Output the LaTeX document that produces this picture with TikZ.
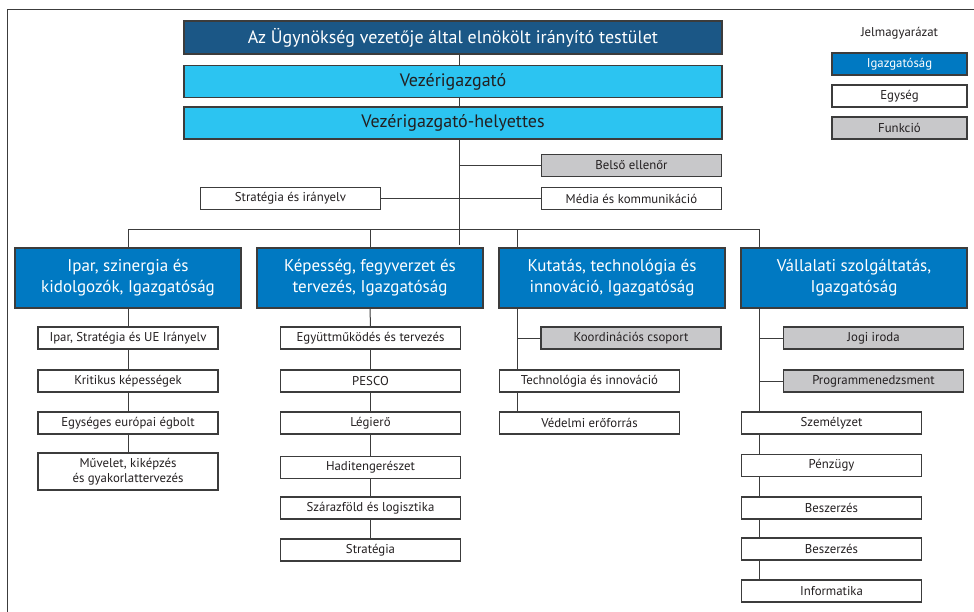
\documentclass[tikz,border=0pt]{standalone}
\usepackage{fontspec}
\setmainfont{PT Sans}
\usetikzlibrary{positioning, calc}

\definecolor{boardblue}{HTML}{1B5786}
\definecolor{ceocyan}{HTML}{2CC4F1}
\definecolor{dirblue}{HTML}{0079C2}
\definecolor{funcgray}{HTML}{C8C8CA}
\definecolor{edgegray}{HTML}{3C3C3C}
\definecolor{textgray}{HTML}{231F20}

\begin{document}
\begin{tikzpicture}[x=1pt, y=-1pt,
    box/.style={rectangle, draw=edgegray, line width=1.1pt, inner sep=0pt, align=center, text=textgray},
    topbox/.style={box, fill=boardblue, text=white, minimum width=538pt, minimum height=33pt, font=\fontsize{18}{21}\selectfont},
    ceobox/.style={box, fill=ceocyan, minimum width=538pt, minimum height=32pt, font=\fontsize{18}{21}\selectfont},
    dirbox/.style={box, fill=dirblue, text=white, minimum width=226pt, minimum height=60pt, font=\fontsize{17}{20.7}\selectfont},
    unitbox/.style={box, fill=white, minimum width=180pt, minimum height=22pt, font=\fontsize{12.8}{14.5}\selectfont},
    funcbox/.style={unitbox, fill=funcgray},
    legendbox/.style={unitbox, minimum width=135pt},
    link/.style={draw=edgegray, line width=1pt}
]
\useasboundingbox (0,0) rectangle (974,612);

% Frame
\draw[link] (7.5,612) -- (7.5,10) -- (974,10);

% Top management
\node[topbox] (board) at (453, 37.5) {Az Ügynökség vezetője által elnökölt irányító testület};
\node[ceobox] (ceo) at (453, 81.5) {Vezérigazgató};
\node[ceobox] (deputy) at (453, 123) {Vezérigazgató-helyettes};

\node[funcbox] (audit) at (631.5, 165.5) {Belső ellenőr};
\node[unitbox] (policy) at (290.5, 198.5) {Stratégia és irányelv};
\node[unitbox] (media) at (631.5, 198.5) {Média és kommunikáció};

% Directorates
\node[dirbox] (dir1) at (128, 278) {Ipar, szinergia és\\kidolgozók, Igazgatóság};
\node[dirbox] (dir2) at (370, 278) {Képesség, fegyverzet és\\tervezés, Igazgatóság};
\node[dirbox] (dir3) at (612, 278) {Kutatás, technológia és\\innováció, Igazgatóság};
\node[dirbox] (dir4) at (854, 278) {Vállalati szolgáltatás,\\Igazgatóság};

% Units of dir1
\node[unitbox] (ind1) at (128, 338) {Ipar, Stratégia és UE Irányelv};
\node[unitbox] (ind2) at (128, 381) {Kritikus képességek};
\node[unitbox] (ind3) at (128, 423) {Egységes európai égbolt};
\node[unitbox, minimum height=37pt] (ind4) at (128, 471.5) {Művelet, kiképzés\\és gyakorlattervezés};

% Units of dir2
\node[unitbox] (cap1) at (370.5, 338) {Együttműködés és tervezés};
\node[unitbox] (cap2) at (370.5, 381) {PESCO};
\node[unitbox] (cap3) at (370.5, 423) {Légierő};
\node[unitbox] (cap4) at (370.5, 467.5) {Haditengerészet};
\node[unitbox] (cap5) at (370.5, 508) {Szárazföld és logisztika};
\node[unitbox] (cap6) at (370.5, 550) {Stratégia};

% Units of dir3
\node[funcbox] (rti0) at (631, 338) {Koordinációs csoport};
\node[unitbox] (rti1) at (589.5, 381) {Technológia és innováció};
\node[unitbox] (rti2) at (589.5, 423) {Védelmi erőforrás};

% Units of dir4
\node[funcbox] (cs0) at (873.5, 338) {Jogi iroda};
\node[funcbox] (cs1) at (873.5, 381) {Programmenedzsment};
\node[unitbox] (cs2) at (831.5, 423) {Személyzet};
\node[unitbox] (cs3) at (831.5, 465.5) {Pénzügy};
\node[unitbox] (cs4) at (831.5, 508) {Beszerzés};
\node[unitbox] (cs5) at (831.5, 549) {Beszerzés};
\node[unitbox] (cs6) at (831.5, 591) {Informatika};

% Legend
\node[font=\fontsize{12.8}{14.5}\selectfont, text=textgray] (legend) at (899.5, 33) {Jelmagyarázat};
\node[legendbox, fill=dirblue, text=white] (lgdir) at (899.5, 64) {Igazgatóság};
\node[legendbox] (lgunit) at (899.5, 96) {Egység};
\node[legendbox, fill=funcgray] (lgfunc) at (899.5, 128) {Funkció};

% Spine coordinates
\coordinate (trunk) at (459, 245);
\coordinate (bus) at (0, 229.5);
\coordinate (spine3) at ($(dir3.south west)+(19,0)$);
\coordinate (spine4) at ($(dir4.south west)+(19,0)$);

% Trunk
\draw[link] (board.south -| trunk) -- (ceo.north -| trunk);
\draw[link] (ceo.south -| trunk) -- (deputy.north -| trunk);
\draw[link] (deputy.south -| trunk) -- (trunk);
\draw[link] (audit.west) -- (audit.west -| trunk);
\draw[link] (media.west) -- (media.west -| trunk);
\draw[link] (policy.east) -- (policy.east -| trunk);

% Bus to directorates
\draw[link] (dir1.north |- bus) -- (spine4 |- bus);
\draw[link] (dir1.north) -- (dir1.north |- bus);
\draw[link] (dir2.north) -- (dir2.north |- bus);
\draw[link] (spine3 |- dir3.north) -- (spine3 |- bus);
\draw[link] (spine4 |- dir4.north) -- (spine4 |- bus);

% Chains
\draw[link] (dir1.south) -- (ind1.north);
\draw[link] (ind1.south) -- (ind2.north);
\draw[link] (ind2.south) -- (ind3.north);
\draw[link] (ind3.south) -- (ind4.north);

\draw[link] (dir2.south) -- (cap1.north);
\draw[link] (cap1.south) -- (cap2.north);
\draw[link] (cap2.south) -- (cap3.north);
\draw[link] (cap3.south) -- (cap4.north);
\draw[link] (cap4.south) -- (cap5.north);
\draw[link] (cap5.south) -- (cap6.north);

\draw[link] (spine3) -- (spine3 |- rti1.north);
\draw[link] (rti0.west) -- (rti0.west -| spine3);
\draw[link] (spine3 |- rti1.south) -- (spine3 |- rti2.north);

\draw[link] (spine4) -- (spine4 |- cs2.north);
\draw[link] (cs0.west) -- (cs0.west -| spine4);
\draw[link] (cs1.west) -- (cs1.west -| spine4);
\draw[link] (spine4 |- cs2.south) -- (spine4 |- cs3.north);
\draw[link] (spine4 |- cs3.south) -- (spine4 |- cs4.north);
\draw[link] (spine4 |- cs4.south) -- (spine4 |- cs5.north);
\draw[link] (spine4 |- cs5.south) -- (spine4 |- cs6.north);

\end{tikzpicture}
\end{document}
